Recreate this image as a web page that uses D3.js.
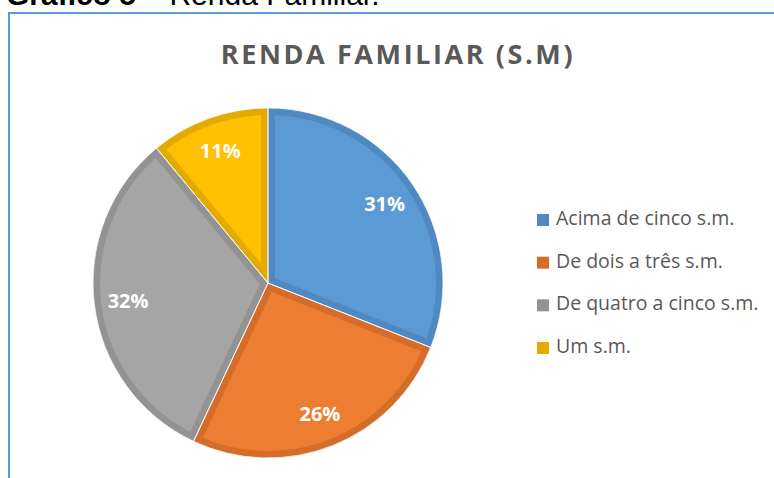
<!DOCTYPE html>
<html>
<head>
<meta charset="utf-8">
<script src="https://cdn.jsdelivr.net/npm/d3@7"></script>
<style>
  body { margin: 0; background: #ffffff; }
</style>
</head>
<body>
<div id="chart"></div>
<script>
var categories = ["Acima de cinco s.m.", "De dois a três s.m.", "De quatro a cinco s.m.", "Um s.m."];
var values = [31, 26, 32, 11];
var fillColors = ["#5b9bd5", "#ed7d31", "#a5a5a5", "#ffc000"];
var edgeColors = ["#4f89bf", "#d46d2a", "#939393", "#e3ab00"];

var width = 774, height = 478;
var cx = 268, cy = 283, radius = 175;

var svg = d3.select("#chart")
    .append("svg")
    .attr("width", width)
    .attr("height", height);

// caption, cut off at the top as in the source page
var caption = svg.append("text")
    .attr("x", 6)
    .attr("y", 5)
    .style("font-family", "'Liberation Sans', Arial, sans-serif")
    .style("font-size", "30px")
    .attr("fill", "#000000");
caption.append("tspan").style("font-weight", "bold").text("Gráfico 5");
caption.append("tspan").text(" – Renda Familiar.");

// chart frame
svg.append("rect")
    .attr("x", 9)
    .attr("y", 13)
    .attr("width", width)
    .attr("height", height)
    .attr("fill", "none")
    .attr("stroke", "#5b9bd5")
    .attr("stroke-width", 2);

// title
svg.append("text")
    .attr("x", 398)
    .attr("y", 64)
    .style("text-anchor", "middle")
    .style("font-family", "'Open Sans', sans-serif")
    .style("font-weight", "bold")
    .style("font-size", "27px")
    .style("letter-spacing", "2.6px")
    .attr("fill", "#595959")
    .text("RENDA FAMILIAR (S.M)");

var pie = d3.pie().sort(null).value(function (d) { return d; });
var arcs = pie(values);

var arc = d3.arc().innerRadius(0).outerRadius(radius);
var labelArc = d3.arc().innerRadius(141).outerRadius(141);

var g = svg.append("g")
    .attr("transform", "translate(" + cx + "," + cy + ")");

var defs = svg.append("defs");
arcs.forEach(function (d, i) {
    defs.append("clipPath")
        .attr("id", "clip" + i)
        .append("path")
        .attr("d", arc(d));
});

// slices with an inner darker edge
g.selectAll("path.slice")
    .data(arcs)
    .enter()
    .append("path")
    .attr("class", "slice")
    .attr("d", arc)
    .attr("clip-path", function (d, i) { return "url(#clip" + i + ")"; })
    .attr("fill", function (d, i) { return fillColors[i]; })
    .attr("stroke", function (d, i) { return edgeColors[i]; })
    .attr("stroke-width", 14)
    .attr("stroke-linejoin", "miter");

// white hairline between slices
g.selectAll("path.sep")
    .data(arcs)
    .enter()
    .append("path")
    .attr("class", "sep")
    .attr("d", arc)
    .attr("fill", "none")
    .attr("stroke", "#ffffff")
    .attr("stroke-width", 0.8);

// percentage labels
g.selectAll("text.pct")
    .data(arcs)
    .enter()
    .append("text")
    .attr("class", "pct")
    .attr("transform", function (d) { return "translate(" + labelArc.centroid(d) + ")"; })
    .attr("dy", "0.36em")
    .style("text-anchor", "middle")
    .style("font-family", "'Open Sans', sans-serif")
    .style("font-weight", "bold")
    .style("font-size", "20px")
    .attr("fill", "#ffffff")
    .text(function (d) { return d.data + "%"; });

// legend (y = text baseline)
var legendY = d3.scalePoint()
    .domain(categories)
    .range([225, 353]);

var legend = svg.selectAll("g.legend")
    .data(categories)
    .enter()
    .append("g")
    .attr("class", "legend")
    .attr("transform", function (d) { return "translate(537," + legendY(d) + ")"; });

legend.append("rect")
    .attr("x", 0)
    .attr("y", -11)
    .attr("width", 12)
    .attr("height", 12)
    .attr("fill", function (d, i) { return edgeColors[i]; });

legend.append("text")
    .attr("x", 19)
    .attr("y", 0)
    .style("font-family", "'Open Sans', sans-serif")
    .style("font-size", "19.5px")
    .attr("fill", "#595959")
    .text(function (d) { return d; });
</script>
</body>
</html>
